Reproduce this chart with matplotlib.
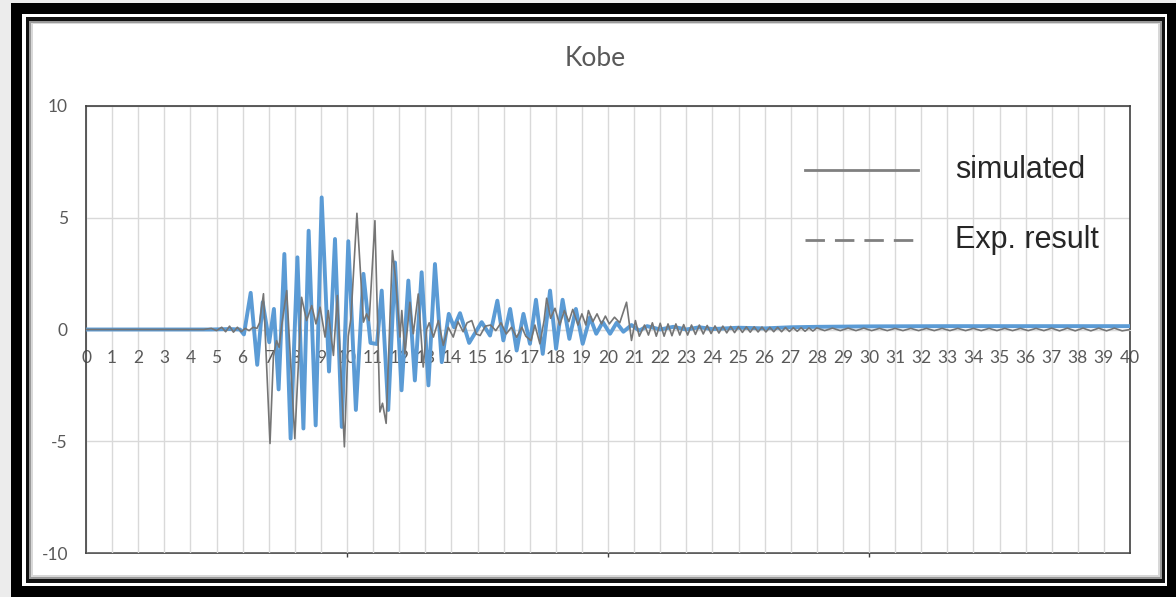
import matplotlib.pyplot as plt
from matplotlib.patches import Rectangle
from matplotlib.lines import Line2D

plt.rcParams['axes.unicode_minus'] = False

# --- data (peaks / troughs) ---
blue_t = [0, 4.8, 5.5, 5.9, 6.05, 6.31, 6.56, 6.77, 7.02, 7.20, 7.38, 7.60, 7.84,
          8.10, 8.33, 8.53, 8.80, 9.03, 9.31, 9.54, 9.80, 10.05, 10.34, 10.63,
          10.9, 11.15, 11.33, 11.58, 11.84, 12.09, 12.35, 12.6, 12.86, 13.12,
          13.37, 13.63, 13.9, 14.1, 14.33, 14.68, 15.16, 15.48, 15.76, 15.99,
          16.25, 16.5, 16.76, 17.01, 17.24, 17.5, 17.78, 18.01, 18.26, 18.52,
          18.77, 19.03, 19.31, 19.55, 19.8, 20.08, 20.33, 20.59, 20.9, 21.2,
          21.5, 22.0, 22.5, 23.0, 23.5, 24.0, 25.0, 26.0, 27.0, 28.0, 30.0,
          33.0, 36.0, 40.0]
blue_v = [0, 0, 0.02, 0, -0.22, 1.64, -1.58, 1.22, -0.57, 0.92, -2.68, 3.38, -4.88,
          3.23, -4.43, 4.42, -4.29, 5.91, -1.88, 4.05, -4.36, 3.95, -3.6, 2.49,
          -0.6, -0.65, 1.74, -3.6, 3.0, -2.72, 2.19, -2.28, 2.56, -2.5,
          2.93, -1.46, 0.7, 0.1, 0.73, -0.6, 0.33, -0.27, 1.29, -0.49,
          0.92, -0.94, 0.70, -0.64, 1.33, -1.09, 1.74, -0.86, 1.33, -0.42,
          0.92, -0.64, 0.55, -0.19, 0.33, -0.19, 0.3, -0.1, 0.2, -0.05,
          0.15, 0.0, 0.12, 0.0, 0.1, 0.02, 0.08, 0.05, 0.1, 0.12, 0.14,
          0.15, 0.15, 0.15]

gray_t = [0, 4.5, 4.8, 5.0, 5.2, 5.35, 5.5, 5.65, 5.8, 5.95, 6.1, 6.25, 6.4, 6.55,
          6.65, 6.80, 7.05, 7.18, 7.3, 7.4, 7.5, 7.69, 8.0, 8.26, 8.45, 8.65,
          8.81, 8.97, 9.16, 9.28, 9.48, 9.63, 9.9, 10.05, 10.15, 10.38, 10.63,
          10.75, 10.85, 11.07, 11.26, 11.36, 11.5, 11.74, 11.85, 12.03, 12.1,
          12.22, 12.41, 12.54, 12.73, 12.92, 13.05, 13.15, 13.31, 13.5, 13.69,
          13.88, 14.07, 14.25, 14.45, 14.6, 14.78, 14.95, 15.1, 15.3, 15.5,
          15.7, 15.9, 16.1, 16.3, 16.5, 16.7, 16.85, 17.05, 17.2, 17.39, 17.55,
          17.65, 17.8, 17.97, 18.15, 18.33, 18.5, 18.65, 18.85, 19.0, 19.15,
          19.25, 19.42, 19.58, 19.75, 19.9, 20.05, 20.25, 20.45, 20.71, 20.9,
          21.05, 21.2, 21.4, 21.55, 21.7, 21.85, 22.0, 22.15, 22.3, 22.45,
          22.6, 22.75, 22.9, 23.05, 23.2, 23.35, 23.5, 23.65, 23.8, 23.95,
          24.1, 24.25, 24.4, 24.55, 24.7, 24.85, 25.0, 25.15, 25.3, 25.45,
          25.6, 25.75, 25.9, 26.05, 26.2, 26.35, 26.5, 26.65, 26.8, 26.95,
          27.1, 27.25, 27.4, 27.55, 27.7, 27.85, 28.0, 28.3, 28.6, 28.9,
          29.2, 29.5, 29.8, 30.1, 30.4, 30.7, 31.0, 31.3, 31.6, 31.9, 32.2,
          32.5, 32.8, 33.1, 33.4, 33.7, 34.0, 34.3, 34.6, 34.9, 35.2, 35.5,
          35.8, 36.1, 36.4, 36.7, 37.0, 37.3, 37.6, 37.9, 38.2, 38.5, 38.8,
          39.1, 39.4, 39.7, 40.0]
gray_v = [0, 0, 0.05, -0.05, 0.1, -0.1, 0.15, -0.12, 0.1, -0.1, 0.05, -0.05, 0.1, 0.05,
          0.3, 1.6, -5.1, -1.2, -0.5, -0.8, 0.2, 1.74, -4.88, 1.44, 0.4, 1.07,
          0.25, 1.0, -0.34, 0.85, -1.16, 1.52, -5.25, -0.3, 0.5, 5.2, 0.33,
          0.7, 0.4, 4.87, -3.69, -3.3, -4.2, 3.53, 2.4, -0.34, 0.85,
          -1.09, 1.22, -0.19, 1.59, -1.68, 0.0, 0.3, -0.34, 0.4, -0.71,
          0.1, -0.34, 0.35, -0.1, 0.3, 0.4, -0.2, -0.27, 0.15, 0.2,
          -0.05, 0.3, -0.2, 0.1, -0.35, 0.1, -0.3, -0.5, 0.2, -0.64, 0.4,
          1.4, 0.5, 0.95, 0.2, 0.85, 0.35, 0.9, 0.2, 0.7, 0.2,
          0.85, 0.35, 0.7, 0.25, 0.6, 0.25, 0.55, 0.3, 1.22, -0.49,
          0.4, -0.3, 0.2, -0.25, 0.3, -0.3, 0.28, -0.3, 0.25, -0.28,
          0.25, -0.25, 0.22, -0.25, 0.2, -0.22, 0.2, -0.2, 0.18, -0.18,
          0.16, -0.16, 0.15, -0.15, 0.14, -0.14, 0.13, -0.13, 0.12, -0.12,
          0.12, -0.11, 0.11, -0.11, 0.1, -0.1, 0.1, -0.1, 0.09, -0.09,
          0.08, -0.08, 0.08, -0.08, 0.07, -0.07, 0.07, -0.05, 0.06, -0.05,
          0.06, -0.05, 0.06, -0.05, 0.05, -0.05, 0.05, -0.05, 0.05, -0.05, 0.05,
          -0.05, 0.05, -0.05, 0.05, -0.05, 0.05, -0.05, 0.05, -0.05, 0.05, -0.05,
          0.05, -0.05, 0.05, -0.05, 0.06, -0.06, 0.06, -0.06, 0.06, -0.06, 0.06,
          -0.06, 0.06, -0.06, 0.0]

x_ticks = list(range(0, 41))
y_ticks = [-10, -5, 0, 5, 10]
legend_labels = ['simulated', 'Exp. result']
title = 'Kobe'

W, H = 1176, 597
fig = plt.figure(figsize=(W / 100, H / 100), dpi=100)
fig.patch.set_facecolor('#ececec')


def px_rect(x0, y0, x1, y1, color):
    # rectangle given in pixel coords (origin top-left)
    fig.add_artist(Rectangle((x0 / W, 1 - y1 / H), (x1 - x0) / W, (y1 - y0) / H,
                             transform=fig.transFigure, facecolor=color,
                             edgecolor='none', zorder=-10))


# picture frame
px_rect(11, 3, 1176, 597, 'black')
px_rect(22, 14, 1167, 586, 'white')
px_rect(26, 17, 1165, 583, '#111111')
px_rect(29, 21, 1162, 579, '#9a9a9a')
px_rect(31, 23, 1160, 577, '#d8d8d8')
px_rect(33, 24, 1158, 575, 'white')

ax = fig.add_axes([86 / W, 1 - 553 / H, (1130 - 86) / W, (553 - 106) / H])
ax.set_facecolor('none')

ax.plot(blue_t, blue_v, color='#5b9bd5', linewidth=2.8,
        solid_joinstyle='round', solid_capstyle='round', zorder=3)
ax.plot(gray_t, gray_v, color='#757575', linewidth=1.2, zorder=4)

ax.set_xlim(0, 40)
ax.set_ylim(-10, 10)
ax.set_xticks(x_ticks)
ax.set_yticks(y_ticks)
ax.grid(True, color='#d9d9d9', linewidth=1)
ax.set_axisbelow(True)

ax.spines['bottom'].set_position(('data', 0))
ax.spines['bottom'].set_color('#d9d9d9')
for s in ['top', 'left', 'right']:
    ax.spines[s].set_color('#404040')
    ax.spines[s].set_linewidth(1.2)

ax.tick_params(axis='x', length=0, pad=15, labelsize=12.5, labelcolor='#595959')
ax.tick_params(axis='y', length=0, pad=13, labelsize=12.5, labelcolor='#595959')
for lab in ax.get_xticklabels() + ax.get_yticklabels():
    lab.set_fontfamily('Lato')

# bottom border with its few tick marks
sec = ax.secondary_xaxis('bottom')
sec.set_xticks([10, 20, 30])
sec.tick_params(length=3, width=1, color='#404040', labelbottom=False)
sec.spines['bottom'].set_color('#404040')
sec.spines['bottom'].set_linewidth(1.2)

fig.text(595 / W, 1 - 58 / H, title, ha='center', va='center', fontsize=19,
         color='#595959', family='Lato')

# legend drawn as in the picture (no frame)
styles = ['-', (0, (7, 3.6))]
for i, (lab, ls) in enumerate(zip(legend_labels, styles)):
    yy = 1 - (170 + 70 * i) / H
    fig.add_artist(Line2D([805 / W, 918 / W], [yy, yy], transform=fig.transFigure,
                          color='#808080', linewidth=2, linestyle=ls))
    fig.text(955 / W, yy, lab, ha='left', va='center', fontsize=22,
             color='#262626', family='Liberation Sans')

fig.savefig('out.png', dpi=100)
